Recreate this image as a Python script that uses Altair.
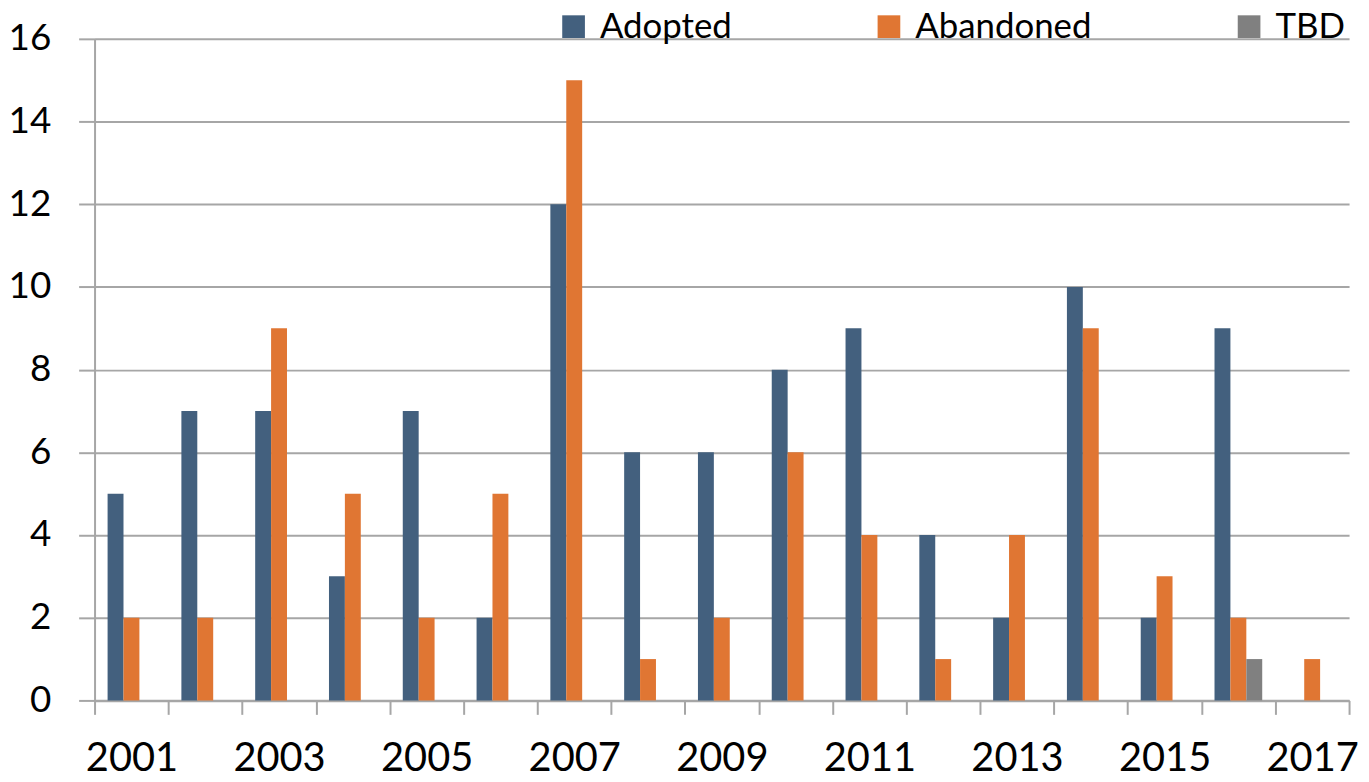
import altair as alt
import pandas as pd

years = [str(y) for y in range(2001, 2018)]
adopted = [5, 7, 7, 3, 7, 2, 12, 6, 6, 8, 9, 4, 2, 10, 2, 9, 0]
abandoned = [2, 2, 9, 5, 2, 5, 15, 1, 2, 6, 4, 1, 4, 9, 3, 2, 1]
tbd = [0, 0, 0, 0, 0, 0, 0, 0, 0, 0, 0, 0, 0, 0, 0, 1, 0]
series = ["Adopted", "Abandoned", "TBD"]
colors = ["#43607E", "#E07633", "#808080"]
y_ticks = [0, 2, 4, 6, 8, 10, 12, 14, 16]

rows = []
for i, yr in enumerate(years):
    for s, vals in zip(series, [adopted, abandoned, tbd]):
        rows.append({"Year": yr, "Status": s, "Count": vals[i]})
df = pd.DataFrame(rows)

FONT = "Lato"
GRID = "#a6a6a6"

chart = alt.Chart(df).mark_bar().encode(
    x=alt.X(
        "Year:N",
        sort=years,
        scale=alt.Scale(paddingInner=0, paddingOuter=0),
        axis=alt.Axis(
            title=None,
            labelAngle=0,
            tickBand="extent",
            labelExpr="toNumber(datum.value) % 2 == 1 ? datum.value : ''",
            labelOverlap=False,
            labelBound=False,
            labelFont=FONT,
            labelFontSize=40,
            labelColor="#000000",
            labelPadding=24,
            tickSize=14,
            tickColor=GRID,
            tickWidth=2,
            domainColor=GRID,
            domainWidth=2.5,
            grid=False,
        ),
    ),
    xOffset=alt.XOffset(
        "Status:N",
        sort=series,
        scale=alt.Scale(domain=series, paddingInner=0, paddingOuter=0.82),
    ),
    y=alt.Y(
        "Count:Q",
        scale=alt.Scale(domain=[0, 16], nice=False),
        axis=alt.Axis(
            title=None,
            values=y_ticks,
            labelFont=FONT,
            labelFontSize=37,
            labelColor="#000000",
            labelPadding=28,
            tickSize=16,
            tickColor=GRID,
            tickWidth=2,
            domainColor=GRID,
            domainWidth=2,
            grid=True,
            gridColor=GRID,
            gridWidth=2,
        ),
    ),
    color=alt.Color(
        "Status:N",
        sort=series,
        scale=alt.Scale(domain=series, range=colors),
        legend=alt.Legend(
            title=None,
            orient="none",
            direction="horizontal",
            legendX=464,
            legendY=-30,
            padding=0,
            symbolType="square",
            symbolSize=520,
            symbolStrokeWidth=0,
            symbolOpacity=1,
            labelFont=FONT,
            labelFontSize=35,
            labelLimit=0,
            labelColor="#000000",
            labelOffset=9,
            columnPadding=140,
        ),
    ),
).properties(
    width=1261,
    height=665,
    autosize=alt.AutoSizeParams(type="none"),
    padding={"left": 87, "top": 29, "right": 12, "bottom": 80},
).configure_view(stroke=None)

chart.save("out.html", embed_options={"renderer": "svg", "actions": False})
